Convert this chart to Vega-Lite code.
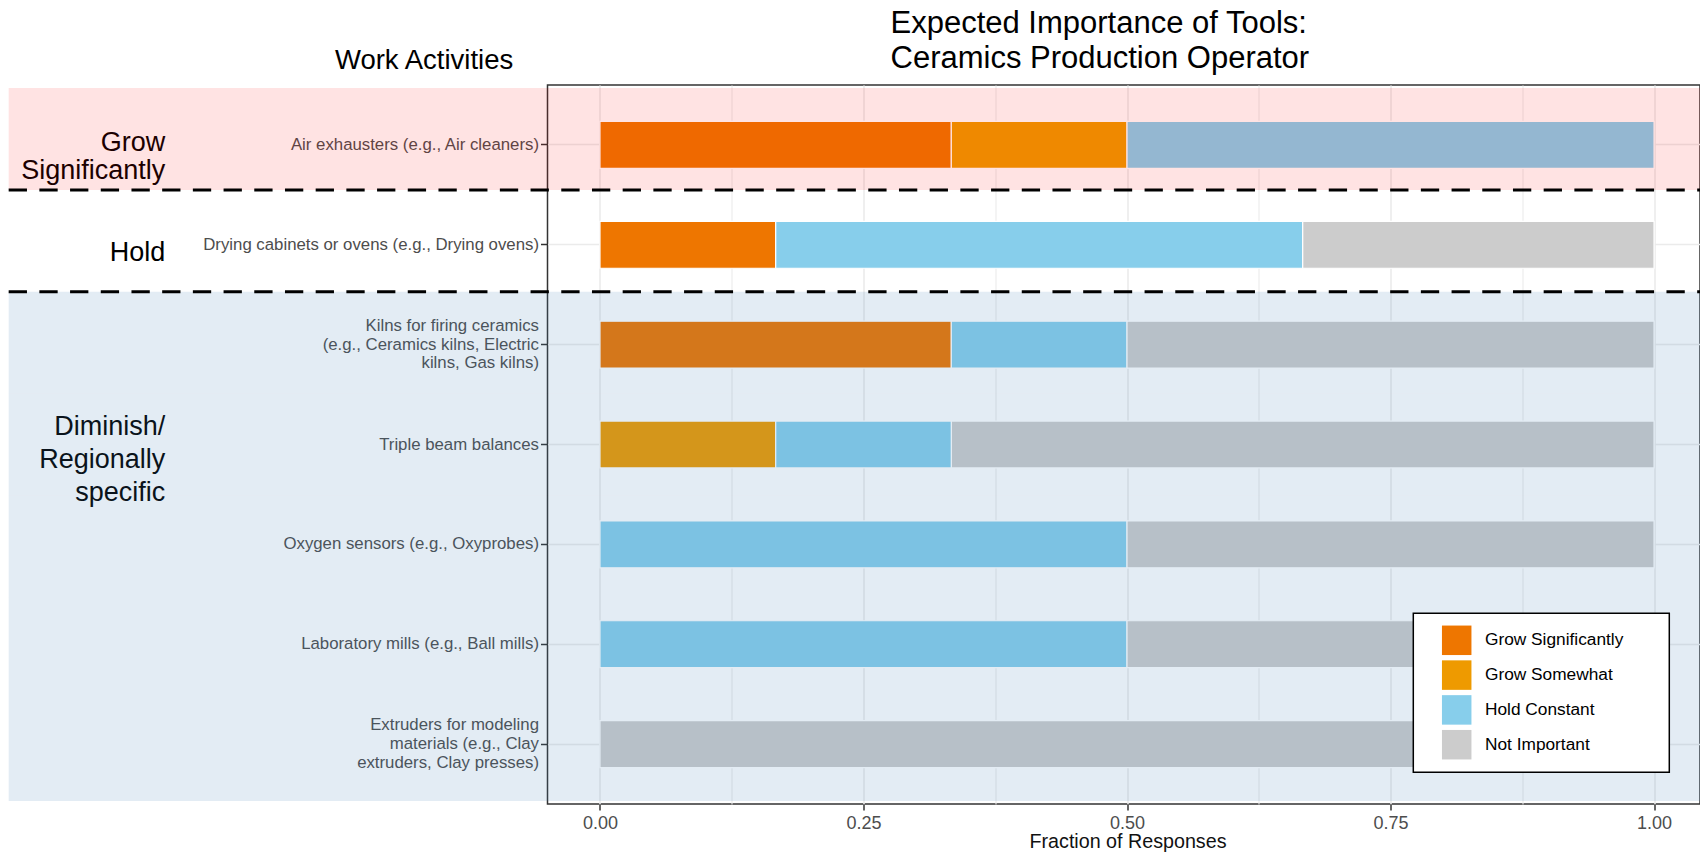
{
  "$schema": "https://vega.github.io/schema/vega-lite/v6.json",
  "autosize": {"type": "none"},
  "padding": {"left": 547.5, "top": 85, "right": 0, "bottom": 54},
  "width": 1152.5,
  "height": 719,
  "background": "white",
  "title": {
    "text": ["Expected Importance of Tools:", "Ceramics Production Operator"],
    "anchor": "start",
    "frame": "group",
    "dx": 343,
    "offset": -29,
    "fontSize": 31,
    "lineHeight": 35,
    "font": "Liberation Sans",
    "fontWeight": "normal",
    "color": "black"
  },
  "datasets": {
    "responses": [
      {"tool": "Air exhausters (e.g., Air cleaners)", "response": "Grow Significantly", "fraction": 0.3333},
      {"tool": "Air exhausters (e.g., Air cleaners)", "response": "Grow Somewhat", "fraction": 0.1667},
      {"tool": "Air exhausters (e.g., Air cleaners)", "response": "Hold Constant", "fraction": 0.5},
      {"tool": "Drying cabinets or ovens (e.g., Drying ovens)", "response": "Grow Significantly", "fraction": 0.1667},
      {"tool": "Drying cabinets or ovens (e.g., Drying ovens)", "response": "Hold Constant", "fraction": 0.5},
      {"tool": "Drying cabinets or ovens (e.g., Drying ovens)", "response": "Not Important", "fraction": 0.3333},
      {"tool": "Kilns for firing ceramics\n(e.g., Ceramics kilns, Electric\nkilns, Gas kilns)", "response": "Grow Significantly", "fraction": 0.3333},
      {"tool": "Kilns for firing ceramics\n(e.g., Ceramics kilns, Electric\nkilns, Gas kilns)", "response": "Hold Constant", "fraction": 0.1667},
      {"tool": "Kilns for firing ceramics\n(e.g., Ceramics kilns, Electric\nkilns, Gas kilns)", "response": "Not Important", "fraction": 0.5},
      {"tool": "Triple beam balances", "response": "Grow Somewhat", "fraction": 0.1667},
      {"tool": "Triple beam balances", "response": "Hold Constant", "fraction": 0.1667},
      {"tool": "Triple beam balances", "response": "Not Important", "fraction": 0.6666},
      {"tool": "Oxygen sensors (e.g., Oxyprobes)", "response": "Hold Constant", "fraction": 0.5},
      {"tool": "Oxygen sensors (e.g., Oxyprobes)", "response": "Not Important", "fraction": 0.5},
      {"tool": "Laboratory mills (e.g., Ball mills)", "response": "Hold Constant", "fraction": 0.5},
      {"tool": "Laboratory mills (e.g., Ball mills)", "response": "Not Important", "fraction": 0.5},
      {"tool": "Extruders for modeling\nmaterials (e.g., Clay\nextruders, Clay presses)", "response": "Not Important", "fraction": 1.0}
    ],
    "tools": [
      {"tool": "Air exhausters (e.g., Air cleaners)", "group": "Grow Significantly"},
      {"tool": "Drying cabinets or ovens (e.g., Drying ovens)", "group": "Hold"},
      {"tool": "Kilns for firing ceramics\n(e.g., Ceramics kilns, Electric\nkilns, Gas kilns)", "group": "Diminish/Regionally specific"},
      {"tool": "Triple beam balances", "group": "Diminish/Regionally specific"},
      {"tool": "Oxygen sensors (e.g., Oxyprobes)", "group": "Diminish/Regionally specific"},
      {"tool": "Laboratory mills (e.g., Ball mills)", "group": "Diminish/Regionally specific"},
      {"tool": "Extruders for modeling\nmaterials (e.g., Clay\nextruders, Clay presses)", "group": "Diminish/Regionally specific"}
    ],
    "boundaries": [
      {"tool": "Drying cabinets or ovens (e.g., Drying ovens)"},
      {"tool": "Kilns for firing ceramics\n(e.g., Ceramics kilns, Electric\nkilns, Gas kilns)"}
    ]
  },
  "layer": [
    {
      "data": {"name": "responses"},
      "mark": {"type": "bar", "height": {"band": 0.47}, "stroke": "white", "strokeWidth": 1.2},
      "encoding": {
        "y": {
          "field": "tool", "type": "nominal",
          "scale": {
            "domain": [
              "Air exhausters (e.g., Air cleaners)",
              "Drying cabinets or ovens (e.g., Drying ovens)",
              "Kilns for firing ceramics\n(e.g., Ceramics kilns, Electric\nkilns, Gas kilns)",
              "Triple beam balances",
              "Oxygen sensors (e.g., Oxyprobes)",
              "Laboratory mills (e.g., Ball mills)",
              "Extruders for modeling\nmaterials (e.g., Clay\nextruders, Clay presses)"
            ],
            "paddingInner": 0, "paddingOuter": 0.1
          },
          "axis": {
            "title": "Work Activities",
            "titleAngle": 0, "titleAlign": "center", "titleBaseline": "alphabetic",
            "titleX": -123.9, "titleY": -17,
            "titleFontSize": 27.5, "titleFontWeight": "normal", "titleColor": "black", "titleFont": "Liberation Sans",
            "labelFont": "Liberation Sans", "labelFontSize": 16.8, "labelColor": "#4d4d4d", "labelLineHeight": 18.8,
            "labelExpr": "split(datum.label, '\\n')", "labelLimit": 600,
            "labelOffset": {"condition": {"test": "indexof(datum.value, '\\n') >= 0", "value": -18.8}, "value": 0},
            "tickColor": "#333333", "tickSize": 7, "tickWidth": 1.5, "labelPadding": 2,
            "domain": false, "grid": true, "gridColor": "#ebebeb", "gridWidth": 1.6
          }
        },
        "x": {
          "field": "fraction", "type": "quantitative", "stack": "zero",
          "scale": {"domain": [-0.0498, 1.0436], "nice": false, "zero": false},
          "axis": {
            "values": [0, 0.125, 0.25, 0.375, 0.5, 0.625, 0.75, 0.875, 1],
            "format": ".2f",
            "labelExpr": "datum.value % 0.25 === 0 ? datum.label : ''",
            "tickOpacity": {"condition": {"test": "datum.value % 0.25 === 0", "value": 1}, "value": 0},
            "gridWidth": {"condition": {"test": "datum.value % 0.25 === 0", "value": 1.6}, "value": 1.1},
            "gridColor": "#ebebeb", "grid": true, "domain": false,
            "tickColor": "#333333", "tickWidth": 1.5, "tickSize": 6, "labelPadding": 4,
            "labelFont": "Liberation Sans", "labelFontSize": 18, "labelColor": "#4d4d4d",
            "labelFlush": false, "labelOverlap": false,
            "title": "Fraction of Responses", "titleFont": "Liberation Sans", "titleFontSize": 19.7,
            "titleFontWeight": "normal", "titleColor": "#111111",
            "titleBaseline": "alphabetic", "titleY": 43, "titleX": 580
          }
        },
        "color": {
          "field": "response", "type": "nominal",
          "scale": {
            "domain": ["Grow Significantly", "Grow Somewhat", "Hold Constant", "Not Important"],
            "range": ["#EE7600", "#EE9A00", "#87CEEB", "#CCCCCC"]
          },
          "legend": {
            "orient": "none", "legendX": 865.8, "legendY": 528.3,
            "title": null, "fillColor": "white", "strokeColor": "black",
            "padding": 12, "symbolType": "square", "symbolSize": 870,
            "symbolStrokeWidth": 0, "symbolOffset": 16.4, "symbolOpacity": 1,
            "labelFont": "Liberation Sans", "labelFontSize": 17.3, "labelColor": "black",
            "labelOffset": 13.3, "rowPadding": 4.8, "labelLimit": 400,
            "labelExpr": "datum.label + '\u00a0\u00a0\u00a0\u00a0\u00a0\u00a0\u00a0\u200b'"
          }
        },
        "order": {"field": "response", "sort": "ascending"}
      }
    },
    {
      "data": {"values": [{"label": "Grow\nSignificantly", "anchor": "Air exhausters (e.g., Air cleaners)"}]},
      "mark": {"type": "text", "align": "right", "baseline": "middle", "fontSize": 27, "lineHeight": 27.6, "lineBreak": "\n", "dy": 7, "color": "black", "font": "Liberation Sans"},
      "encoding": {
        "x": {"datum": -0.4124, "title": "Fraction of Responses"},
        "y": {
          "field": "anchor", "type": "nominal", "axis": null,
          "scale": {
            "domain": [
              "Air exhausters (e.g., Air cleaners)",
              "Drying cabinets or ovens (e.g., Drying ovens)",
              "Kilns for firing ceramics\n(e.g., Ceramics kilns, Electric\nkilns, Gas kilns)",
              "Triple beam balances",
              "Oxygen sensors (e.g., Oxyprobes)",
              "Laboratory mills (e.g., Ball mills)",
              "Extruders for modeling\nmaterials (e.g., Clay\nextruders, Clay presses)"
            ],
            "paddingInner": 0, "paddingOuter": 0.1
          }
        },
        "text": {"field": "label"}
      }
    },
    {
      "data": {"values": [{"label": "Hold", "anchor": "Drying cabinets or ovens (e.g., Drying ovens)"}]},
      "mark": {"type": "text", "align": "right", "baseline": "middle", "fontSize": 27, "dy": 14, "color": "black", "font": "Liberation Sans"},
      "encoding": {
        "x": {"datum": -0.4124, "title": "Fraction of Responses"},
        "y": {
          "field": "anchor", "type": "nominal", "axis": null,
          "scale": {
            "domain": [
              "Air exhausters (e.g., Air cleaners)",
              "Drying cabinets or ovens (e.g., Drying ovens)",
              "Kilns for firing ceramics\n(e.g., Ceramics kilns, Electric\nkilns, Gas kilns)",
              "Triple beam balances",
              "Oxygen sensors (e.g., Oxyprobes)",
              "Laboratory mills (e.g., Ball mills)",
              "Extruders for modeling\nmaterials (e.g., Clay\nextruders, Clay presses)"
            ],
            "paddingInner": 0, "paddingOuter": 0.1
          }
        },
        "text": {"field": "label"}
      }
    },
    {
      "data": {"values": [{"label": "Diminish/\nRegionally\nspecific", "anchor": "Triple beam balances"}]},
      "mark": {"type": "text", "align": "right", "baseline": "middle", "fontSize": 27, "lineHeight": 33.3, "lineBreak": "\n", "dy": -18, "color": "black", "font": "Liberation Sans"},
      "encoding": {
        "x": {"datum": -0.4124, "title": "Fraction of Responses"},
        "y": {
          "field": "anchor", "type": "nominal", "axis": null,
          "scale": {
            "domain": [
              "Air exhausters (e.g., Air cleaners)",
              "Drying cabinets or ovens (e.g., Drying ovens)",
              "Kilns for firing ceramics\n(e.g., Ceramics kilns, Electric\nkilns, Gas kilns)",
              "Triple beam balances",
              "Oxygen sensors (e.g., Oxyprobes)",
              "Laboratory mills (e.g., Ball mills)",
              "Extruders for modeling\nmaterials (e.g., Clay\nextruders, Clay presses)"
            ],
            "paddingInner": 0, "paddingOuter": 0.1
          }
        },
        "text": {"field": "label"}
      }
    },
    {
      "data": {"name": "tools"},
      "mark": {"type": "rect"},
      "encoding": {
        "x": {"datum": -0.561, "title": "Fraction of Responses"},
        "x2": {"datum": 1.06},
        "y": {
          "field": "tool", "type": "nominal", "axis": null,
          "scale": {
            "domain": [
              "Air exhausters (e.g., Air cleaners)",
              "Drying cabinets or ovens (e.g., Drying ovens)",
              "Kilns for firing ceramics\n(e.g., Ceramics kilns, Electric\nkilns, Gas kilns)",
              "Triple beam balances",
              "Oxygen sensors (e.g., Oxyprobes)",
              "Laboratory mills (e.g., Ball mills)",
              "Extruders for modeling\nmaterials (e.g., Clay\nextruders, Clay presses)"
            ],
            "paddingInner": 0, "paddingOuter": 0.03
          }
        },
        "fill": {
          "field": "group", "type": "nominal", "legend": null,
          "scale": {
            "domain": ["Grow Significantly", "Hold", "Diminish/Regionally specific"],
            "range": ["rgba(255,0,0,0.11)", "rgba(255,255,255,0)", "rgba(70,130,180,0.15)"]
          }
        }
      }
    },
    {
      "data": {"name": "boundaries"},
      "mark": {"type": "rule", "strokeDash": [18.3, 12.4], "strokeWidth": 3, "color": "black"},
      "encoding": {
        "x": {"datum": -0.561, "title": "Fraction of Responses"},
        "x2": {"datum": 1.06},
        "y": {
          "field": "tool", "type": "nominal", "bandPosition": 0, "axis": null,
          "scale": {
            "domain": [
              "Air exhausters (e.g., Air cleaners)",
              "Drying cabinets or ovens (e.g., Drying ovens)",
              "Kilns for firing ceramics\n(e.g., Ceramics kilns, Electric\nkilns, Gas kilns)",
              "Triple beam balances",
              "Oxygen sensors (e.g., Oxyprobes)",
              "Laboratory mills (e.g., Ball mills)",
              "Extruders for modeling\nmaterials (e.g., Clay\nextruders, Clay presses)"
            ],
            "paddingInner": 0, "paddingOuter": 0.03
          }
        }
      }
    }
  ],
  "resolve": {"scale": {"y": "independent"}},
  "config": {
    "font": "Liberation Sans",
    "view": {"stroke": "#333333", "strokeWidth": 1.5},
    "legend": {"strokeWidth": 1.5}
  }
}
